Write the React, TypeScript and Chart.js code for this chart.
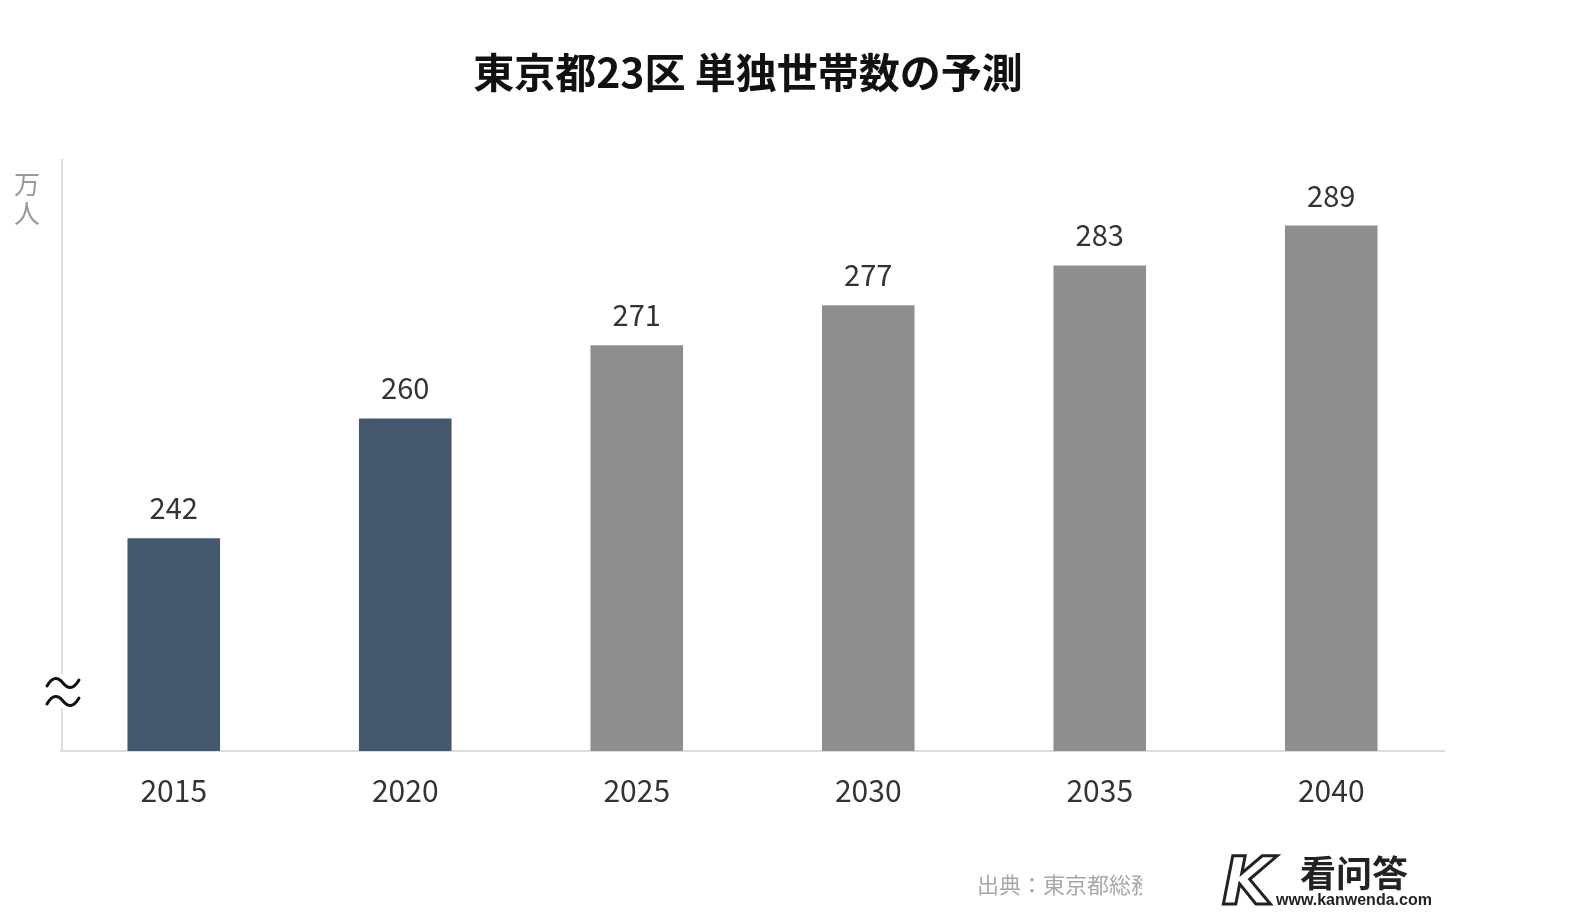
import React, { useEffect, useRef } from "react";
import { Chart, registerables } from "chart.js";

Chart.register(...registerables);

const categories = ["2015", "2020", "2025", "2030", "2035", "2040"];
const households = [242, 260, 271, 277, 283, 289];
const actualCount = 2; // first two are actual values, rest are forecasts
const titleText = "東京都23区 単独世帯数の予測";
const unitText = ["万", "人"];
const sourceText = "出典：東京都総務局";

const W = 1576;
const H = 914;
const JP = '"Noto Sans CJK JP", "Noto Sans", sans-serif';

function wave(ctx: CanvasRenderingContext2D, x0: number, x1: number, cy: number) {
  const w = x1 - x0;
  ctx.beginPath();
  ctx.moveTo(x0, cy + 3);
  ctx.bezierCurveTo(x0 + w * 0.18, cy - 7, x0 + w * 0.35, cy - 6, x0 + w * 0.5, cy);
  ctx.bezierCurveTo(x0 + w * 0.65, cy + 6, x0 + w * 0.82, cy + 7, x1, cy - 3);
  ctx.stroke();
}

const overlay = {
  id: "overlay",
  beforeDatasetsDraw(chart: any) {
    const { ctx, chartArea } = chart;
    ctx.save();
    ctx.strokeStyle = "#dcdcdc";
    ctx.lineWidth = 2;
    ctx.beginPath();
    ctx.moveTo(chartArea.left + 4, chartArea.top);
    ctx.lineTo(chartArea.left + 4, chartArea.bottom);
    ctx.moveTo(chartArea.left + 2, chartArea.bottom);
    ctx.lineTo(chartArea.right - 2, chartArea.bottom);
    ctx.stroke();
    ctx.restore();
  },
  afterDraw(chart: any) {
    const { ctx, chartArea } = chart;
    ctx.save();
    // data labels
    const meta = chart.getDatasetMeta(0);
    ctx.fillStyle = "#333";
    ctx.font = `29px ${JP}`;
    ctx.textAlign = "center";
    ctx.textBaseline = "alphabetic";
    meta.data.forEach((bar: any, i: number) => {
      ctx.fillText(String(households[i]), bar.x, bar.y - 19);
    });

    // axis break mark
    const bx = chartArea.left + 4;
    ctx.fillStyle = "#fff";
    ctx.fillRect(bx - 4, 674, 8, 34);
    ctx.strokeStyle = "#111";
    ctx.lineWidth = 3;
    ctx.lineCap = "round";
    wave(ctx, 47, 79, 683);
    wave(ctx, 47, 79, 701);

    // unit label
    ctx.fillStyle = "#999";
    ctx.font = `26px ${JP}`;
    ctx.textBaseline = "middle";
    ctx.fillText(unitText[0], 27, 184);
    ctx.fillText(unitText[1], 27, 213);

    // title
    ctx.fillStyle = "#111";
    ctx.font = `bold 41px ${JP}`;
    ctx.fillText(titleText, 748, 72);

    // source (cut off as in the original)
    ctx.save();
    ctx.beginPath();
    ctx.rect(960, 860, 182, 50);
    ctx.clip();
    ctx.fillStyle = "#a8a8a8";
    ctx.font = `22px ${JP}`;
    ctx.textAlign = "left";
    ctx.fillText(sourceText, 977, 885);
    ctx.restore();

    // watermark
    ctx.textAlign = "left";
    ctx.lineWidth = 3;
    ctx.strokeStyle = "#222";
    ctx.fillStyle = "#fff";
    ctx.font = 'bold italic 66px "DejaVu Sans", sans-serif';
    ctx.textBaseline = "alphabetic";
    ctx.fillText("K", 1222, 904);
    ctx.strokeText("K", 1222, 904);
    ctx.fillStyle = "#222";
    ctx.font = 'bold 36px "Noto Sans CJK SC", sans-serif';
    ctx.textBaseline = "middle";
    ctx.fillText("看问答", 1300, 873);
    ctx.font = 'bold 16px "Liberation Sans", sans-serif';
    ctx.fillText("www.kanwenda.com", 1276, 901);
    ctx.restore();
  },
};

export default function App() {
  const ref = useRef<HTMLCanvasElement | null>(null);
  useEffect(() => {
    if (!ref.current) return;
    const chart = new Chart(ref.current, {
      type: "bar",
      data: {
        labels: categories,
        datasets: [
          {
            data: households,
            backgroundColor: households.map((_, i) =>
              i < actualCount ? "#44596d" : "#8e8e8e"
            ),
            categoryPercentage: 1,
            barPercentage: 0.4,
          },
        ],
      },
      options: {
        responsive: false,
        animation: false,
        devicePixelRatio: 1,
        layout: { padding: { left: 58, right: 129, top: 159, bottom: 103 } },
        plugins: { legend: { display: false }, tooltip: { enabled: false } },
        scales: {
          x: {
            grid: { display: false, drawTicks: false },
            border: { display: false },
            ticks: {
              color: "#333",
              font: { size: 30, family: JP },
              padding: 22,
            },
            afterFit: (scale: any) => {
              scale.height = 60;
            },
          },
          y: {
            display: false,
            min: 210,
            max: 299,
          },
        },
      },
      plugins: [overlay],
    });
    return () => chart.destroy();
  }, []);
  return (
    <div style={{ position: "fixed", left: 0, top: 0, width: W, height: H, background: "#fff" }}>
      <canvas ref={ref} width={W} height={H} style={{ width: W, height: H, display: "block" }} />
    </div>
  );
}
